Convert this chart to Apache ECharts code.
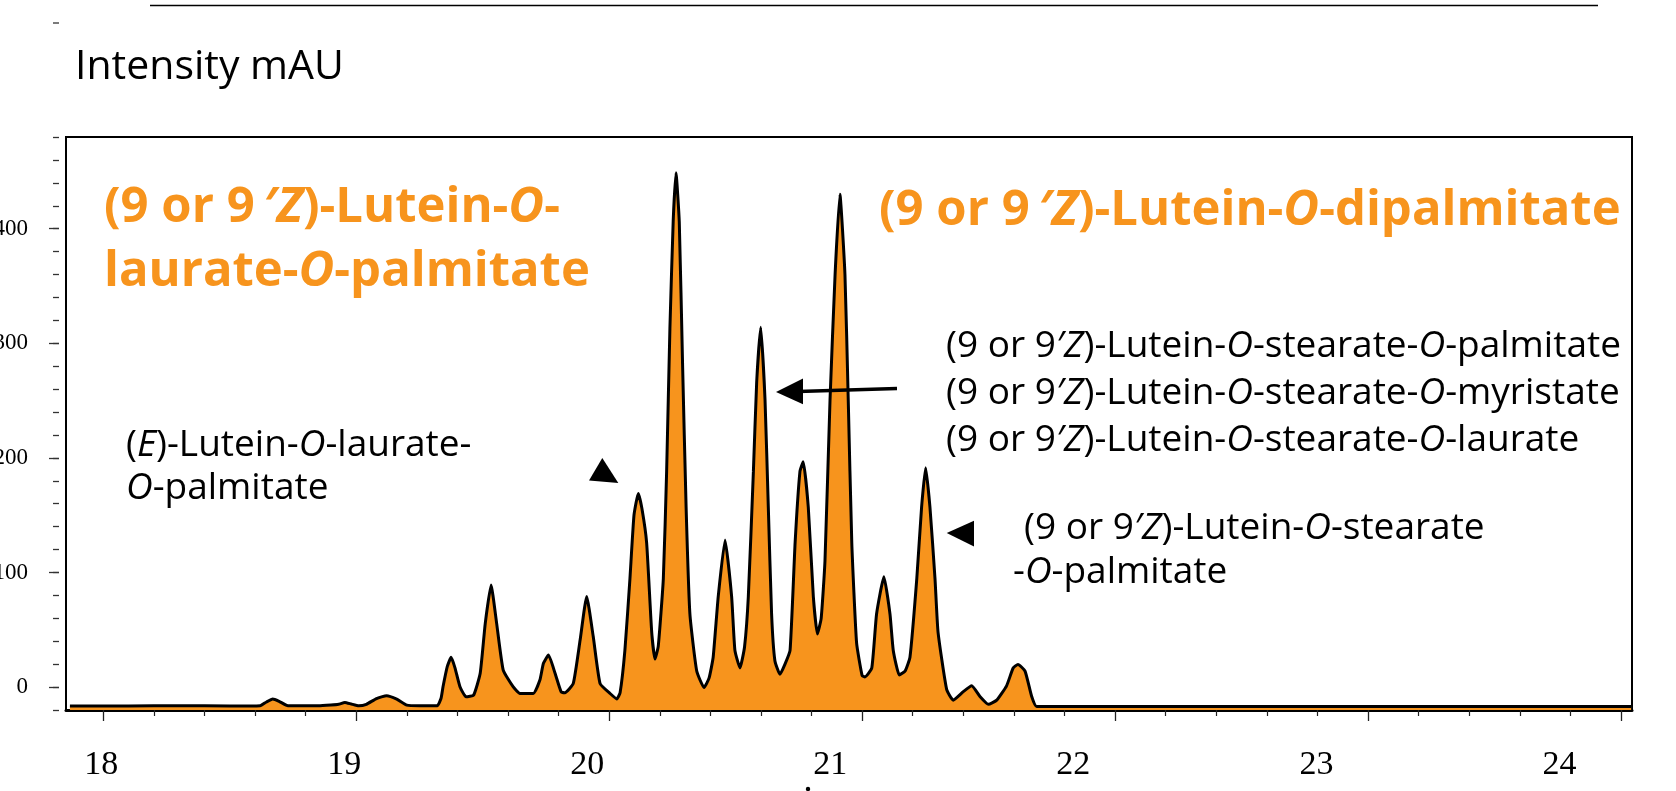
<!DOCTYPE html>
<html>
<head>
<meta charset="utf-8">
<title>Chromatogram</title>
<script src="https://cdn.jsdelivr.net/npm/echarts@6.0.0/dist/echarts.min.js"></script>
<style>
  html, body { margin: 0; padding: 0; background: #fff; }
  #chart { width: 1676px; height: 791px; }
</style>
</head>
<body>
<div id="chart"></div>
<script>
// retention time (min) and intensity (mAU)
const times = [
  17.868, 18.1, 18.3, 18.5, 18.62, 18.645, 18.67, 18.695, 18.73, 18.85,
  18.9, 18.93, 18.955, 18.98, 19.01, 19.04, 19.08, 19.12, 19.16, 19.2,
  19.25, 19.32, 19.335, 19.343, 19.36, 19.375, 19.39, 19.41, 19.434, 19.464,
  19.49, 19.51, 19.533, 19.555, 19.581, 19.62, 19.647, 19.70, 19.726, 19.74,
  19.76, 19.786, 19.81, 19.825, 19.858, 19.885, 19.911, 19.937, 19.964, 20.003,
  20.03, 20.043, 20.062, 20.082, 20.098, 20.115, 20.13, 20.148, 20.168, 20.181,
  20.194, 20.214, 20.227, 20.24, 20.253, 20.264, 20.277, 20.29, 20.304, 20.319,
  20.346, 20.375, 20.395, 20.411, 20.431, 20.458, 20.484, 20.497, 20.517, 20.535,
  20.55, 20.57, 20.583, 20.599, 20.616, 20.629, 20.642, 20.655, 20.675, 20.695,
  20.715, 20.735, 20.754, 20.767, 20.787, 20.807, 20.823, 20.838, 20.853, 20.873,
  20.893, 20.912, 20.932, 20.945, 20.959, 20.978, 21.0, 21.011, 21.038, 21.057,
  21.086, 21.11, 21.123, 21.147, 21.17, 21.189, 21.216, 21.235, 21.251, 21.268,
  21.288, 21.30, 21.334, 21.36, 21.40, 21.433, 21.465, 21.499, 21.532, 21.571,
  21.597, 21.616, 21.644, 21.67, 21.69, 22.0, 23.0, 24.04
];
const intensity = [
  -16.6, -16.6, -16.2, -16.6, -16.3, -13, -10.5, -12.5, -16.3, -16.4,
  -15.7, -15, -13.4, -14.8, -16.4, -15, -10, -7.5, -10.5, -15.7,
  -16.2, -16.2, -10, 0.3, 18, 26, 17, 0.3, -8.5, -7,
  12, 55.6, 89, 55.6, 14.8, 0.3, -5.5, -5.5, 6.1, 20.7,
  28, 12, -4.1, -4.9, 3.2, 41, 79, 43.9, 3, -5.5,
  -10.3, -5, 32, 94.7, 150, 169, 155, 125.9, 48, 24.5,
  35.8, 94.7, 188, 313, 406.6, 448.7, 406, 282, 157, 63.8,
  14, -0.4, 8, 26, 79, 128.4, 79, 32, 16.7, 35,
  79, 188, 266, 314, 250.7, 157, 63.8, 23, 11.1, 20,
  32, 126, 188, 196.7, 157, 79, 46.3, 60, 110, 250.7,
  360, 430, 360, 250.7, 126, 38.5, 10, 8.9, 16.6, 63.8,
  96.2, 63.8, 32, 10.5, 14, 26, 94.7, 157, 191.4, 157,
  94.7, 48, -2, -11.4, -4, 1.1, -8, -15, -11.4, 1.1,
  16.6, 19.8, 14, -8, -17, -17, -17, -17
];

// axis ticks and labels
const majorTicks = [18, 19, 20, 21, 22, 23, 24];
const minorTicks = [
  18.2, 18.4, 18.6, 18.8, 19.2, 19.4, 19.6, 19.8, 20.2, 20.4, 20.6, 20.8,
  21.2, 21.4, 21.6, 21.8, 22.2, 22.4, 22.6, 22.8, 23.2, 23.4, 23.6, 23.8
];
const timeLabels = [18, 19, 20, 21, 22, 23, 24];
const yLabels = [0, 100, 200, 300, 400];

const ORANGE = '#F7941D';
const SANS = '"Open Sans", "Noto Sans", sans-serif';
const SERIF = '"Liberation Serif", "DejaVu Serif", serif';

// rich text helper: parts is a list of [text, italic]
function richText(x, y, parts, size, bold, color) {
  const base = { fontFamily: SANS, fontSize: size, fontWeight: bold ? 'bold' : 'normal', fill: color };
  return {
    type: 'text',
    x: x,
    y: y,
    z: 20,
    style: {
      text: parts.map(p => '{' + (p[1] ? 'i' : 'n') + '|' + p[0] + '}').join(''),
      rich: {
        n: Object.assign({}, base),
        i: Object.assign({}, base, { fontStyle: 'italic' })
      },
      fill: color,
      font: (bold ? 'bold ' : '') + size + 'px ' + SANS,
      verticalAlign: 'middle'
    }
  };
}

const chart = echarts.init(document.getElementById('chart'));

chart.setOption({
  animation: false,
  backgroundColor: '#fff',
  grid: {
    left: 66, right: 44, top: 137, bottom: 81,
    containLabel: false, outerBoundsMode: 'none',
    show: true, borderColor: '#000', borderWidth: 2, backgroundColor: 'transparent'
  },
  xAxis: [
    {
      // ticks at whole minutes
      type: 'value', min: 17.8525, max: 24.0435, position: 'bottom',
      axisLine: { show: true, onZero: false, lineStyle: { color: '#000', width: 3 } },
      axisTick: { show: true, customValues: majorTicks, length: 11, lineStyle: { color: '#222', width: 1.3 } },
      axisLabel: { show: false },
      splitLine: { show: false }
    },
    {
      type: 'value', min: 17.8525, max: 24.0435, position: 'bottom',
      axisLine: { show: false, onZero: false },
      axisTick: { show: true, customValues: minorTicks, length: 6, lineStyle: { color: '#222', width: 1.2 } },
      axisLabel: { show: false },
      splitLine: { show: false }
    },
    {
      // the time labels sit on their own (slightly narrower) scale
      type: 'value', min: 17.8554, max: 24.2985, position: 'bottom',
      axisLine: { show: false, onZero: false },
      axisTick: { show: false },
      axisLabel: {
        show: true, customValues: timeLabels, margin: 38,
        fontFamily: SERIF, fontSize: 34, color: '#000'
      },
      splitLine: { show: false }
    }
  ],
  yAxis: [
    {
      type: 'value', min: -20, max: 480, interval: 20, offset: 7, position: 'left',
      axisLine: { show: false, onZero: false },
      axisTick: { show: true, length: 6, lineStyle: { color: '#333', width: 1.3 } },
      axisLabel: {
        margin: 31, fontFamily: SERIF, fontSize: 23, color: '#000',
        formatter: v => (yLabels.indexOf(v) >= 0 ? String(v) : '')
      },
      splitLine: { show: false }
    },
    {
      type: 'value', min: -20, max: 480, offset: 7, position: 'left',
      axisLine: { show: false, onZero: false },
      axisTick: { show: true, customValues: yLabels, length: 10, lineStyle: { color: '#333', width: 1.3 } },
      axisLabel: { show: false },
      splitLine: { show: false }
    }
  ],
  series: [
    {
      type: 'line',
      xAxisIndex: 0,
      yAxisIndex: 0,
      data: times.map((t, i) => [t, intensity[i]]),
      showSymbol: false,
      smooth: 0.15,
      lineStyle: { color: '#000', width: 3 },
      areaStyle: { color: ORANGE, opacity: 1, origin: 'start' },
      z: 3
    }
  ],
  graphic: [
    // rule across the top and the stray tick above the axis
    { type: 'line', shape: { x1: 150, y1: 5.5, x2: 1598, y2: 5.5 }, style: { stroke: '#000', lineWidth: 1.5 } },
    { type: 'line', shape: { x1: 53, y1: 23, x2: 59, y2: 23 }, style: { stroke: '#333', lineWidth: 1.3 } },
    { type: 'circle', shape: { cx: 808, cy: 789, r: 2.2 }, style: { fill: '#000' } },

    { type: 'text', x: 75, y: 67, style: { text: 'Intensity mAU', font: '41px ' + SANS, fill: '#000', verticalAlign: 'middle' } },

    richText(104, 208, [['(9 or 9\u2009', false], ['\u2032Z', true], [')-Lutein-', false], ['O', true], ['-', false]], 49, true, ORANGE),
    richText(104, 272, [['laurate-', false], ['O', true], ['-palmitate', false]], 49, true, ORANGE),
    richText(879, 211, [['(9 or 9\u2009', false], ['\u2032Z', true], [')-Lutein-', false], ['O', true], ['-dipalmitate', false]], 49, true, ORANGE),

    richText(126, 445, [['(', false], ['E', true], [')-Lutein-', false], ['O', true], ['-laurate-', false]], 37, false, '#000'),
    richText(126, 488, [['O', true], ['-palmitate', false]], 37, false, '#000'),

    richText(946, 346, [['(9 or 9', false], ['\u2032Z', true], [')-Lutein-', false], ['O', true], ['-stearate-', false], ['O', true], ['-palmitate', false]], 37, false, '#000'),
    richText(946, 393, [['(9 or 9', false], ['\u2032Z', true], [')-Lutein-', false], ['O', true], ['-stearate-', false], ['O', true], ['-myristate', false]], 37, false, '#000'),
    richText(946, 440, [['(9 or 9', false], ['\u2032Z', true], [')-Lutein-', false], ['O', true], ['-stearate-', false], ['O', true], ['-laurate', false]], 37, false, '#000'),

    richText(1024, 528, [['(9 or 9', false], ['\u2032Z', true], [')-Lutein-', false], ['O', true], ['-stearate', false]], 37, false, '#000'),
    richText(1013, 572, [['-', false], ['O', true], ['-palmitate', false]], 37, false, '#000'),

    // arrow and pointers
    { type: 'line', z: 20, shape: { x1: 897, y1: 388.6, x2: 798, y2: 391.5 }, style: { stroke: '#000', lineWidth: 3.5 } },
    { type: 'polygon', z: 20, shape: { points: [[776, 392], [803, 378.6], [803, 404.3]] }, style: { fill: '#000' } },
    { type: 'polygon', z: 20, shape: { points: [[602.3, 457.9], [589, 480.4], [618.3, 482.9]] }, style: { fill: '#000' } },
    { type: 'polygon', z: 20, shape: { points: [[946.7, 532.9], [974, 520.7], [974, 546.4]] }, style: { fill: '#000' } }
  ]
});
</script>
</body>
</html>
